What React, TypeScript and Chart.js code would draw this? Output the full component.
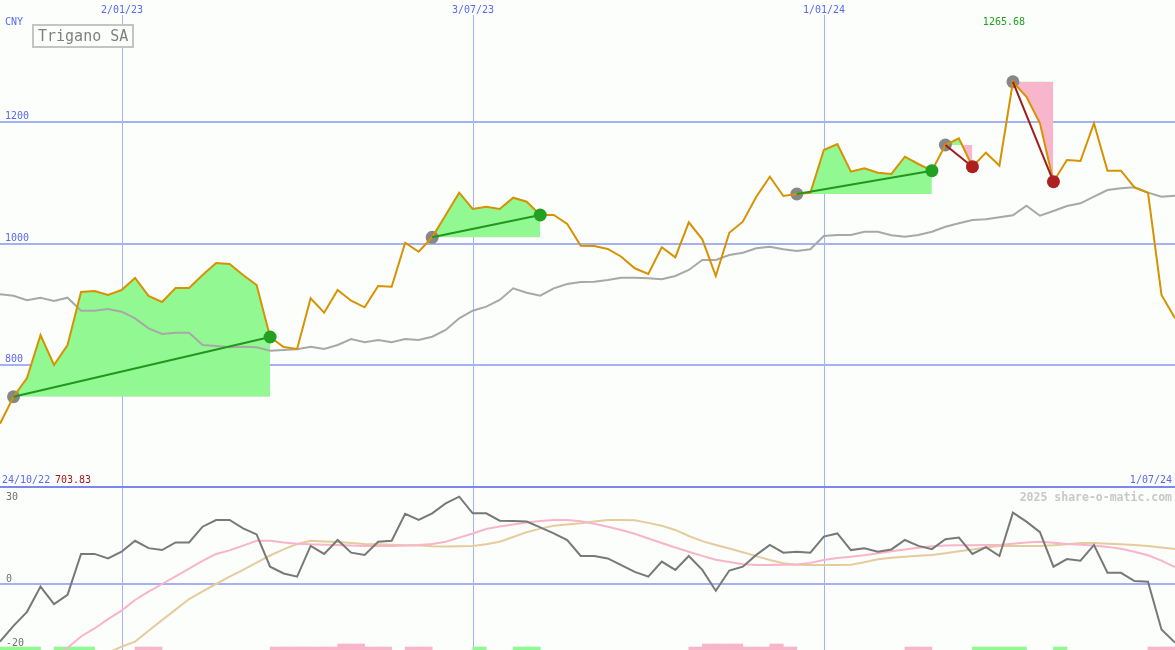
import React, { useEffect, useRef } from 'react';
import { Chart, registerables } from 'chart.js';
Chart.register(...registerables);

// ---------- data ----------
const startDate = '24/10/22';
const endDate = '1/07/24';
const gridDateLabels = ['2/01/23', '3/07/23', '1/01/24'];
const gridDateIndex = [9, 35, 61];
const priceTicks = [800, 1000, 1200];
const oscTicks = [30, 0, -20];
const currency = 'CNY';
const title = 'Trigano SA';
const watermark = '2025 share-o-matic.com';

const price = [
  703.83, 748.3, 779, 849.7, 800.4, 833.3, 920.3, 922, 915.4, 923.6,
  943.3, 913.8, 903.9, 927, 927, 948.3, 968, 966.3, 948.3, 931.8,
  846.4, 830, 826.7, 910, 886.3, 923.6, 906, 895.2, 930.2, 929,
  1001.3, 986.5, 1010.2, 1046.8, 1083.4, 1056.7, 1060.5, 1056.7, 1075.2, 1068.7,
  1046.8, 1046.8, 1032, 996.4, 995.9, 991, 978.3, 959.3, 949.9, 993.8,
  977.3, 1034.8, 1006.9, 946.6, 1017.7, 1035.8, 1076.9, 1109.7, 1078, 1081.3,
  1083.4, 1153.6, 1163.4, 1118, 1123.5, 1116.3, 1114.2, 1142.6, 1130.6, 1119.6,
  1161.8, 1172.8, 1126.2, 1149.2, 1127.8, 1265.68, 1241.1, 1197.5, 1101.5, 1137.2,
  1135.5, 1197.5, 1119.6, 1119.6, 1092.3, 1083.4, 915.4, 877.1,
];

const average = [
  916.6, 914, 907, 911, 905.5, 911, 889.6, 889.6, 892.4, 888,
  877, 860.7, 851.3, 853.5, 853.5, 833.3, 831.6, 829.5, 830.5, 829.5,
  823.9, 825, 826.2, 830.5, 826.7, 833.3, 843.1, 837.7, 841.5, 837.7,
  843.1, 841.5, 846.9, 857.9, 877.1, 889.6, 896.2, 907.2, 926.4, 919.2,
  914.3, 926.4, 933.5, 936.8, 937.3, 940, 943.8, 943.8, 942.8, 941.2,
  946.6, 956.5, 972.9, 972.9, 981.1, 984.9, 992.1, 994.8, 990.5, 987.7,
  990.5, 1012.3, 1014, 1014, 1019.4, 1019.4, 1013.5, 1011.2, 1014, 1019.4,
  1027.6, 1033.2, 1038.6, 1039.8, 1043, 1046.3, 1062.1, 1045.7, 1053.4, 1061.6,
  1066, 1076.9, 1087.9, 1090.7, 1092.3, 1083.5, 1076.9, 1078.5,
];

// trades: [start index, end index]
const tradeStart = [1, 32, 59, 70, 75];
const tradeEnd = [20, 40, 69, 72, 78];

const oscillator = [
  -18.0, -13.1, -8.7, -0.8, -6.3, -3.4, 9.4, 9.4, 8.0, 10.1,
  13.5, 11.2, 10.6, 13.0, 13.0, 17.9, 20.0, 20.0, 17.4, 15.5,
  5.4, 3.3, 2.3, 11.9, 9.4, 13.75, 9.8, 9.1, 13.2, 13.5,
  21.9, 20.0, 22.1, 25.2, 27.3, 22.1, 22.1, 19.8, 19.7, 19.5,
  17.7, 15.8, 13.75, 8.75, 8.75, 8.0, 5.9, 3.8, 2.3, 7.0,
  4.4, 8.75, 4.4, -2.1, 4.2, 5.4, 9.1, 12.2, 9.8, 10.1,
  9.8, 14.8, 15.8, 10.6, 11.2, 10.1, 10.8, 13.75, 11.9, 10.9,
  14.0, 14.5, 9.4, 11.5, 8.75, 22.3, 19.5, 16.2, 5.4, 7.8,
  7.3, 12.2, 3.5, 3.5, 0.9, 0.7, -14.2, -18.3,
];

const signalFast = [
  null, null, null, null, -23, -20, -16.4, -13.9, -11, -8.3,
  -5, -2.4, 0, 2.4, 4.8, 7.2, 9.4, 10.5, 12, 13.5,
  13.5, 13, 12.6, 12.4, 12.3, 12.2, 12, 11.9, 11.9, 11.9,
  12, 12.2, 12.5, 13.2, 14.5, 15.8, 17.2, 18, 18.6, 19.2,
  19.7, 20, 20, 19.6, 18.8, 17.9, 16.9, 15.7, 14.2, 12.8,
  11.4, 10.1, 8.8, 7.6, 6.9, 6.2, 5.9, 5.9, 6.0, 6.1,
  6.6, 7.5, 8.1, 8.5, 9.0, 9.6, 10.2, 10.8, 11.3, 11.8,
  12.0, 12.1, 12.1, 12.2, 12.2, 12.6, 13.0, 13.2, 12.9, 12.5,
  12.3, 12.0, 11.6, 11.0, 10.1, 9.0, 7.3, 5.3,
];

const signalSlow = [
  null, null, null, null, null, null, null, null, -21.5, -19.6,
  -18, -14.6, -11.3, -8, -4.7, -2.3, 0, 2.3, 4.4, 6.7,
  8.9, 10.8, 12.5, 13.5, 13.3, 13.1, 12.8, 12.5, 12.4, 12.3,
  12.1, 12.0, 11.8, 11.7, 11.8, 11.9, 12.4, 13.2, 14.7, 16.2,
  17.3, 18.2, 18.6, 19.0, 19.5, 20, 20, 19.9, 19.1, 18.2,
  16.9, 15.0, 13.4, 12.2, 11.1, 9.9, 8.7, 7.5, 6.5, 6.0,
  5.9, 5.9, 5.9, 6.0, 6.8, 7.7, 8.2, 8.5, 8.8, 9.1,
  9.6, 10.2, 10.8, 11.4, 11.9, 11.9, 11.9, 11.9, 12.1, 12.4,
  12.8, 12.8, 12.6, 12.4, 12.2, 11.9, 11.4, 10.9,
];

// 1 = buy bar, -1 = sell bar, -2 = strong sell bar
const signalBars = [
  1, 1, 1, 0, 1, 1, 1, 0, 0, 0,
  -1, -1, 0, 0, 0, 0, 0, 0, 0, 0,
  -1, -1, -1, -1, -1, -2, -2, -1, -1, 0,
  -1, -1, 0, 0, 0, 1, 0, 0, 1, 1,
  0, 0, 0, 0, 0, 0, 0, 0, 0, 0,
  0, -1, -2, -2, -2, -1, -1, -2, -1, 0,
  0, 0, 0, 0, 0, 0, 0, -1, -1, 0,
  0, 0, 1, 1, 1, 1, 0, 0, 1, 0,
  0, 0, 0, 0, 0, -1, -1, 0,
];

// ---------- styles ----------
const BG = '#fbfefb';
const GRID = '#a4b2f4';
const SEP = '#7a88ee';
const BLUE = '#5a68f0';
const ORANGE = '#d69200';
const AVG = '#a8a8a8';
const GREEN_FILL = 'rgb(146,248,146)';
const PINK_FILL = 'rgb(248,182,204)';
const GREEN_LINE = '#22961e';
const RED_LINE = '#a01c1c';
const FONT = '"DejaVu Sans Mono", "Liberation Mono", monospace';

const W = 1175;
const TOP_H = 488;
const BOT_H = 162;
const Y_MIN = 600;
const Y_MAX = 1400;
const OSC_MAX = 30;
const OSC_MIN = -20.625;
const BAR_UNIT = 0.9375;
const LAST = price.length - 1;

const pts = (arr: (number | null)[]) => arr.map((v, i) => ({ x: i, y: v }));

export default function App() {
  const topRef = useRef<HTMLCanvasElement>(null);
  const botRef = useRef<HTMLCanvasElement>(null);

  useEffect(() => {
    const maxVal = Math.max(...price);
    const maxIdx = price.indexOf(maxVal);

    const topDeco = {
      id: 'topDeco',
      beforeDraw(chart: any) {
        const { ctx, width, height } = chart;
        const xs = chart.scales.x;
        const ys = chart.scales.y;
        ctx.save();
        ctx.fillStyle = BG;
        ctx.fillRect(0, 0, width, height);
        ctx.fillStyle = GRID;
        priceTicks.forEach((v) => {
          const py = Math.round(ys.getPixelForValue(v));
          ctx.fillRect(0, py - 1, width, 2);
        });
        gridDateIndex.forEach((i) => {
          const px = Math.round(xs.getPixelForValue(i));
          ctx.fillRect(px, 15, 1, height - 15);
        });
        ctx.restore();
      },
      afterDraw(chart: any) {
        const { ctx } = chart;
        const xs = chart.scales.x;
        const ys = chart.scales.y;
        ctx.save();
        ctx.font = '10px ' + FONT;
        ctx.textBaseline = 'alphabetic';
        ctx.fillStyle = BLUE;
        ctx.textAlign = 'left';
        ctx.fillText(currency, 5, 25);
        priceTicks.forEach((v) => {
          ctx.fillText(String(v), 5, Math.round(ys.getPixelForValue(v)) - 3);
        });
        ctx.textAlign = 'center';
        gridDateIndex.forEach((i, k) => {
          ctx.fillText(gridDateLabels[k], Math.round(xs.getPixelForValue(i)), 13);
        });
        ctx.textAlign = 'left';
        ctx.fillText(startDate, 2, 483);
        ctx.fillStyle = '#a01c1c';
        ctx.fillText(price[0].toFixed(2), 55, 483);
        ctx.fillStyle = BLUE;
        ctx.textAlign = 'right';
        ctx.fillText(endDate, 1172, 483);
        ctx.fillStyle = '#22a022';
        ctx.textAlign = 'center';
        ctx.fillText(maxVal.toFixed(2), xs.getPixelForValue(maxIdx) - 9, 25);
        // title box
        ctx.fillStyle = BG;
        ctx.fillRect(33, 25, 100, 22);
        ctx.strokeStyle = '#c4c4c4';
        ctx.lineWidth = 2;
        ctx.strokeRect(33, 25, 100, 22);
        ctx.font = '15px ' + FONT;
        ctx.fillStyle = '#808080';
        ctx.textAlign = 'left';
        ctx.fillText(title, 38, 41);
        // separator
        ctx.fillStyle = SEP;
        ctx.fillRect(0, 486, W, 2);
        ctx.restore();
      },
    };

    const botDeco = {
      id: 'botDeco',
      beforeDraw(chart: any) {
        const { ctx, width, height } = chart;
        const xs = chart.scales.x;
        const ys = chart.scales.y;
        ctx.save();
        ctx.fillStyle = BG;
        ctx.fillRect(0, 0, width, height);
        ctx.fillStyle = GRID;
        const py = Math.round(ys.getPixelForValue(0));
        ctx.fillRect(0, py - 1, width, 2);
        gridDateIndex.forEach((i) => {
          const px = Math.round(xs.getPixelForValue(i));
          ctx.fillRect(px, 0, 1, height);
        });
        ctx.restore();
      },
      afterDraw(chart: any) {
        const { ctx } = chart;
        const ys = chart.scales.y;
        ctx.save();
        ctx.font = '10px ' + FONT;
        ctx.fillStyle = '#707070';
        ctx.textAlign = 'left';
        oscTicks.forEach((v) => {
          const py = Math.round(ys.getPixelForValue(v));
          ctx.fillText(String(v), 6, v === OSC_MAX ? py + 12 : py - 2);
        });
        ctx.font = 'bold 11.5px ' + FONT;
        ctx.fillStyle = '#c8c8c8';
        ctx.textAlign = 'right';
        ctx.fillText(watermark, 1172, 13);
        ctx.restore();
      },
    };

    const topDatasets: any[] = [];
    tradeStart.forEach((s, k) => {
      const e = tradeEnd[k];
      const base = price[s];
      topDatasets.push({
        type: 'line',
        data: price.slice(s, e + 1).map((v, j) => ({ x: s + j, y: v })),
        borderWidth: 0,
        borderColor: 'rgba(0,0,0,0)',
        pointRadius: 0,
        fill: { target: { value: base }, above: GREEN_FILL, below: PINK_FILL },
        order: 20,
      });
      const up = price[e] >= price[s];
      topDatasets.push({
        type: 'line',
        data: [{ x: s, y: price[s] }, { x: e, y: price[e] }],
        borderColor: up ? GREEN_LINE : RED_LINE,
        borderWidth: 2,
        pointRadius: 0,
        fill: false,
        order: 3,
      });
      topDatasets.push({
        type: 'line',
        data: [{ x: s, y: price[s] }],
        showLine: false,
        pointRadius: 6.5,
        pointBorderWidth: 0,
        pointBackgroundColor: '#878787',
        order: 6,
      });
      topDatasets.push({
        type: 'line',
        data: [{ x: e, y: price[e] }],
        showLine: false,
        pointRadius: 6.5,
        pointBorderWidth: 0,
        pointBackgroundColor: up ? '#22a022' : '#ae2020',
        order: 1,
      });
    });
    topDatasets.push({
      type: 'line',
      data: pts(average),
      borderColor: AVG,
      borderWidth: 2,
      pointRadius: 0,
      fill: false,
      order: 10,
    });
    topDatasets.push({
      type: 'line',
      data: pts(price),
      borderColor: ORANGE,
      borderWidth: 2,
      pointRadius: 0,
      fill: false,
      order: 4,
    });

    const common = {
      animation: false as const,
      responsive: false,
      devicePixelRatio: 1,
      events: [] as any[],
      plugins: { legend: { display: false }, tooltip: { enabled: false } },
      elements: { line: { tension: 0 }, point: { radius: 0 } },
    };

    const top = new Chart(topRef.current as HTMLCanvasElement, {
      type: 'line',
      data: { datasets: topDatasets },
      options: {
        ...common,
        layout: { autoPadding: false, padding: { left: 0, right: 0, top: 0, bottom: 1 } },
        scales: {
          x: { type: 'linear', display: false, min: 0, max: LAST, offset: false },
          y: { type: 'linear', display: false, min: Y_MIN, max: Y_MAX },
        },
      } as any,
      plugins: [topDeco],
    });

    const barData: any[] = [];
    const barColors: string[] = [];
    signalBars.forEach((v, i) => {
      if (v !== 0) {
        barData.push({ x: i + 0.5, y: [OSC_MIN, OSC_MIN + Math.abs(v) * BAR_UNIT] });
        barColors.push(v > 0 ? GREEN_FILL : PINK_FILL);
      }
    });

    const bot = new Chart(botRef.current as HTMLCanvasElement, {
      type: 'line',
      data: {
        datasets: [
          {
            type: 'bar',
            data: barData,
            backgroundColor: barColors,
            borderWidth: 0,
            barPercentage: 1,
            categoryPercentage: 1,
            order: 10,
          },
          {
            type: 'line',
            data: pts(signalSlow),
            borderColor: '#e6cc9c',
            borderWidth: 2,
            pointRadius: 0,
            fill: false,
            order: 6,
          },
          {
            type: 'line',
            data: pts(signalFast),
            borderColor: '#f8b4ca',
            borderWidth: 2,
            pointRadius: 0,
            fill: false,
            order: 5,
          },
          {
            type: 'line',
            data: pts(oscillator),
            borderColor: '#787878',
            borderWidth: 2,
            pointRadius: 0,
            fill: false,
            order: 2,
          },
        ] as any,
      },
      options: {
        ...common,
        layout: { autoPadding: false, padding: 0 },
        scales: {
          x: { type: 'linear', display: false, min: 0, max: LAST, offset: false },
          y: { type: 'linear', display: false, min: OSC_MIN, max: OSC_MAX },
        },
      } as any,
      plugins: [botDeco],
    });

    return () => {
      top.destroy();
      bot.destroy();
    };
  }, []);

  return (
    <div
      style={{
        position: 'fixed',
        left: 0,
        top: 0,
        width: W,
        height: TOP_H + BOT_H,
        background: BG,
        overflow: 'hidden',
      }}
    >
      <canvas
        ref={topRef}
        width={W}
        height={TOP_H}
        style={{ position: 'absolute', left: 0, top: 0, display: 'block' }}
      />
      <canvas
        ref={botRef}
        width={W}
        height={BOT_H}
        style={{ position: 'absolute', left: 0, top: TOP_H, display: 'block' }}
      />
    </div>
  );
}
